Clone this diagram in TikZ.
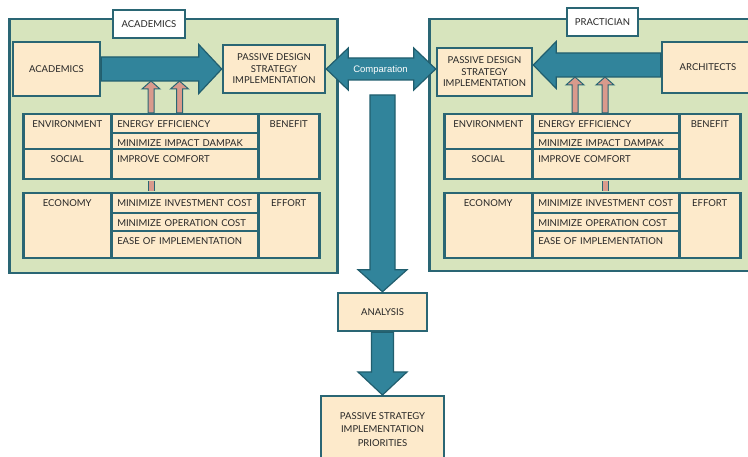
\documentclass[tikz,border=0pt]{standalone}
\usepackage{fontspec}
\setmainfont{Lato}
\newfontfamily\arialfont{Liberation Sans}
\usetikzlibrary{calc,positioning}
\definecolor{PanelGreen}{HTML}{D7E4BD}
\definecolor{TealLine}{HTML}{2A6674}
\definecolor{Cream}{HTML}{FDEACB}
\definecolor{ArrowTeal}{HTML}{31849B}
\definecolor{ArrowLine}{HTML}{215E6E}
\definecolor{PinkFill}{HTML}{D99A8C}
\definecolor{InkGray}{HTML}{262626}
% block arrow: [style]{start}{tip}{shaft half}{head half}{head length}
\newcommand{\blockarrow}[6][bigarrow]{%
  \path coordinate (bah) at ($(#3)!#6!(#2)$);
  \filldraw[#1] ($(#2)!#4!90:(#3)$) -- ($(bah)!#4!-90:(#2)$) -- ($(bah)!#5!-90:(#2)$)
    -- (#3) -- ($(bah)!#5!90:(#2)$) -- ($(bah)!#4!90:(#2)$) -- ($(#2)!#4!-90:(#3)$) -- cycle;}
% two-headed block arrow: {left tip}{right tip}{shaft half}{head half}{head length}
\newcommand{\dblarrow}[5]{%
  \path coordinate (dal) at ($(#1)!#5!(#2)$) coordinate (dar) at ($(#2)!#5!(#1)$);
  \filldraw[bigarrow] (#1) -- ($(dal)!#4!90:(#2)$) -- ($(dal)!#3!90:(#2)$)
    -- ($(dar)!#3!-90:(#1)$) -- ($(dar)!#4!-90:(#1)$) -- (#2)
    -- ($(dar)!#4!90:(#1)$) -- ($(dar)!#3!90:(#1)$)
    -- ($(dal)!#3!-90:(#2)$) -- ($(dal)!#4!-90:(#2)$) -- cycle;}

\begin{document}
\begin{tikzpicture}[x=1pt,y=-1pt,
    every node/.style={font=\fontsize{9.5}{11.5}\selectfont, text=InkGray},
    panel/.style={draw=TealLine, fill=PanelGreen, line width=2.5pt, anchor=north west},
    titlebox/.style={draw=TealLine, fill=white, line width=2pt},
    box/.style={draw=TealLine, fill=Cream, line width=2.5pt, align=center},
    cellbox/.style n args={3}{draw=TealLine, fill=Cream, line width=2.5pt,
      anchor=north west, inner xsep=6pt, inner ysep=3pt, text width=#1pt-12pt,
      text height=10pt, text depth=#2pt-16pt, align=#3},
    bigarrow/.style={draw=ArrowLine, fill=ArrowTeal, line width=1.2pt, line join=miter},
    thinarrow/.style={draw=TealLine, fill=PinkFill, line width=1pt},
    pinkbar/.style={draw=TealLine, line width=1pt, double=PinkFill, double distance=5pt,
      shorten <=1pt, shorten >=1pt}]
  \clip (0,0) rectangle (748,457);

  % panels
  \node[panel, minimum width=328, minimum height=254] (panelL) at (8,18) {};
  \node[panel, minimum width=330, minimum height=252] (panelR) at (428,18) {};
  \node[titlebox, minimum width=72, minimum height=28] (titleL) at (149,24) {ACADEMICS};
  \node[titlebox, minimum width=71, minimum height=28] (titleR) at (602.5,22) {PRACTICIAN};

  % top boxes
  \node[box, minimum width=87, minimum height=54] (acadL) at (56.5,69) {ACADEMICS};
  \node[box, minimum width=102, minimum height=48] (passL) at (274,69)
    {PASSIVE DESIGN\\STRATEGY\\IMPLEMENTATION};
  \node[box, minimum width=95, minimum height=48] (passR) at (484.5,72)
    {PASSIVE DESIGN\\STRATEGY\\IMPLEMENTATION};
  \node[box, minimum width=92, minimum height=51] (archi) at (708,67.5) {ARCHITECTS};

  % benefit and effort tables
  \foreach \s/\dx in {L/0,R/421}{
    \node[cellbox={88}{35}{center}] (env\s) at (22+\dx,113) {ENVIRONMENT};
    \node[cellbox={88}{30}{center}] (social\s) at (22+\dx,148) {SOCIAL};
    \node[cellbox={147}{19}{left}] (energy\s) at (110+\dx,113) {ENERGY EFFICIENCY};
    \node[cellbox={147}{16}{left}] (impact\s) at (110+\dx,132) {MINIMIZE IMPACT DAMPAK};
    \node[cellbox={147}{30}{left}] (comfort\s) at (110+\dx,148) {IMPROVE COMFORT};
    \node[cellbox={61}{65}{center}] (benefit\s) at (257+\dx,113) {BENEFIT};
    \node[cellbox={88}{65}{center}] (economy\s) at (22+\dx,192) {ECONOMY};
    \node[cellbox={147}{20}{left}] (invest\s) at (110+\dx,192) {MINIMIZE INVESTMENT COST};
    \node[cellbox={147}{18}{left}] (operation\s) at (110+\dx,212) {MINIMIZE OPERATION COST};
    \node[cellbox={147}{27}{left}] (ease\s) at (110+\dx,230) {EASE OF IMPLEMENTATION};
    \node[cellbox={61}{65}{center}] (effort\s) at (257+\dx,192) {EFFORT};
  }

  % analysis chain
  \node[box, minimum width=89, minimum height=38] (ana) at (382.5,312) {ANALYSIS};
  \node[box, minimum width=123, minimum height=66, anchor=north,
    font=\fontsize{9.5}{13.5}\selectfont] (prio) at (382.5,395)
    {PASSIVE STRATEGY\\IMPLEMENTATION\\PRIORITIES};

  % big arrows
  \blockarrow{acadL.east}{passL.west}{12pt}{24.5pt}{23pt}
  \coordinate (archfoot) at (archi.west |- 0,65);
  \coordinate (archtip) at (passR.east |- archfoot);
  \blockarrow{archfoot}{archtip}{12pt}{23.5pt}{23pt}
  \coordinate (cmpR) at (passL.east -| passR.west);
  \dblarrow{passL.east}{cmpR}{11pt}{21pt}{22pt}
  \node[font=\arialfont\fontsize{9.5}{11}\selectfont, text=white] (comp) at (380.5,70) {Comparation};
  \coordinate (cfoot) at (382.5,95);
  \blockarrow{cfoot}{ana.north}{12.5pt}{24.5pt}{22pt}
  \blockarrow{ana.south}{prio.north}{11pt}{24.5pt}{23pt}

  % pink arrows into the big arrows
  \coordinate (pinL1) at (151,81);
  \coordinate (pinL2) at (179.5,81);
  \coordinate (pinR1) at (575,77);
  \coordinate (pinR2) at (605,77);
  \foreach \p/\s in {L1/L,L2/L,R1/R,R2/R}{
    \coordinate (pfoot\p) at (energy\s.north -| pin\p);
    \blockarrow[thinarrow]{pfoot\p}{pin\p}{3pt}{9pt}{8pt}
  }
  \draw[pinkbar] (comfortL.south -| pinL1) -- (investL.north -| pinL1);
  \draw[pinkbar] (comfortR.south -| pinR2) -- (investR.north -| pinR2);
\end{tikzpicture}
\end{document}
